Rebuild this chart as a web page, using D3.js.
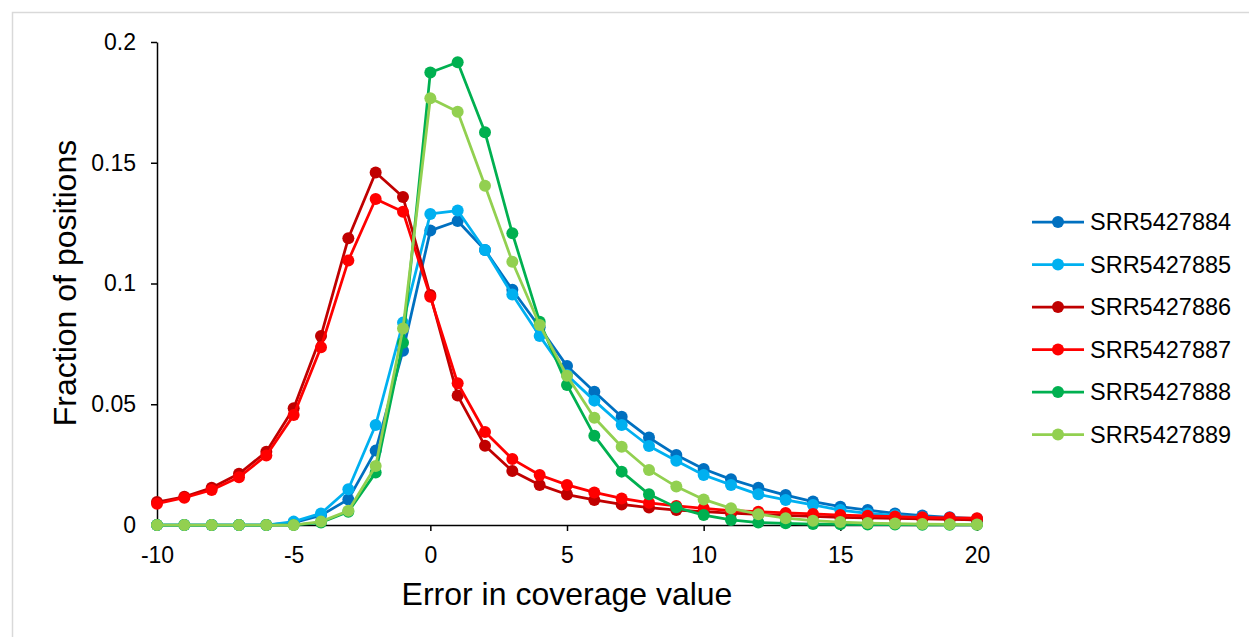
<!DOCTYPE html>
<html>
<head>
<meta charset="utf-8">
<script src="https://cdn.jsdelivr.net/npm/d3@7"></script>
<style>
  body { margin: 0; background: #fff; }
  svg text { font-family: "Liberation Sans", Arial, sans-serif; fill: #000; }
</style>
</head>
<body>
<div id="plot"></div>
<script>
// Chart data
var xValues = d3.range(-10, 21);

var seriesNames = ["SRR5427884", "SRR5427885", "SRR5427886", "SRR5427887", "SRR5427888", "SRR5427889"];
var seriesColors = ["#0070C0", "#00B0F0", "#C00000", "#FF0000", "#00B050", "#92D050"];

var srr884 = [0, 0, 0, 0, 0, 0.001, 0.004, 0.0106, 0.0308, 0.0722, 0.1219, 0.1259, 0.1139, 0.0974, 0.0819, 0.0658,
  0.0552, 0.0448, 0.0362, 0.029, 0.0232, 0.0189, 0.0154, 0.0124, 0.0097, 0.0076, 0.0062, 0.0048, 0.0039, 0.0032, 0.0026];
var srr885 = [0, 0, 0, 0, 0, 0.0014, 0.0048, 0.0148, 0.0414, 0.0838, 0.1288, 0.1302, 0.1139, 0.0954, 0.0783, 0.0621,
  0.0515, 0.0414, 0.0327, 0.0266, 0.0207, 0.0166, 0.0127, 0.0104, 0.0083, 0.0062, 0.0048, 0.004, 0.0032, 0.0026, 0.002];
var srr886 = [0.0095, 0.0117, 0.0154, 0.0212, 0.0303, 0.0483, 0.0783, 0.1187, 0.146, 0.1358, 0.0952, 0.0536, 0.0328, 0.0224, 0.0166, 0.0126,
  0.0104, 0.0085, 0.0072, 0.0062, 0.0055, 0.0049, 0.0044, 0.004, 0.0036, 0.0032, 0.003, 0.0027, 0.0025, 0.0023, 0.0021];
var srr887 = [0.0088, 0.0113, 0.0145, 0.0198, 0.0288, 0.0455, 0.0736, 0.1095, 0.135, 0.1297, 0.0945, 0.0587, 0.0385, 0.0273, 0.0207, 0.0166,
  0.0135, 0.011, 0.0092, 0.0079, 0.0069, 0.006, 0.0055, 0.005, 0.0046, 0.0041, 0.0038, 0.0035, 0.0032, 0.003, 0.0028];
var srr888 = [0, 0, 0, 0, 0, 0, 0.001, 0.0055, 0.0217, 0.0755, 0.1874, 0.1916, 0.1626, 0.1208, 0.0842, 0.058,
  0.037, 0.0221, 0.0127, 0.0073, 0.0041, 0.0021, 0.001, 0.0007, 0.0004, 0.0003, 0.0002, 0.0002, 0.0001, 0.0001, 0.0001];
var srr889 = [0, 0, 0, 0, 0, 0, 0.0014, 0.0059, 0.0244, 0.0814, 0.1767, 0.1711, 0.1405, 0.109, 0.0828, 0.0618,
  0.0444, 0.0324, 0.0228, 0.0159, 0.0106, 0.0069, 0.0045, 0.0028, 0.0018, 0.0012, 0.0008, 0.0006, 0.0004, 0.0003, 0.0002];

var xTicks = [-10, -5, 0, 5, 10, 15, 20];
var xTickLabels = ["-10", "-5", "0", "5", "10", "15", "20"];
var yTicks = [0, 0.05, 0.1, 0.15, 0.2];
var yTickLabels = ["0", "0.05", "0.1", "0.15", "0.2"];

var allSeries = [srr884, srr885, srr886, srr887, srr888, srr889];

// Canvas size
var svgWidth = 1249;
var svgHeight = 637;

var margin = { top: 42, right: 272, bottom: 112, left: 157 };
var width = svgWidth - margin.left - margin.right;
var height = svgHeight - margin.top - margin.bottom;

var svg = d3.select("#plot")
  .append("svg")
  .attr("width", svgWidth)
  .attr("height", svgHeight);

// light grey chart border (runs off the right and bottom edge)
svg.append("rect")
  .attr("x", 12.5)
  .attr("y", 12.5)
  .attr("width", svgWidth + 20)
  .attr("height", svgHeight + 20)
  .attr("fill", "none")
  .attr("stroke", "#d9d9d9")
  .attr("stroke-width", 1.5);

var chartGroup = svg.append("g")
  .attr("transform", `translate(${margin.left}, ${margin.top})`);

var xScale = d3.scaleLinear().domain([-10, 20]).range([0, width]);
var yScale = d3.scaleLinear().domain([0, 0.2]).range([height, 0]);

var bottomAxis = d3.axisBottom(xScale)
  .tickValues(xTicks)
  .tickSize(6)
  .tickSizeOuter(0)
  .tickPadding(16)
  .tickFormat((d, i) => xTickLabels[i]);

var leftAxis = d3.axisLeft(yScale)
  .tickValues(yTicks)
  .tickSize(6)
  .tickSizeOuter(0)
  .tickPadding(15)
  .tickFormat((d, i) => yTickLabels[i]);

var xAxisG = chartGroup.append("g")
  .attr("transform", `translate(0, ${height})`)
  .call(bottomAxis);

var yAxisG = chartGroup.append("g")
  .call(leftAxis);

[xAxisG, yAxisG].forEach(function(g) {
  g.select(".domain").attr("stroke", "#000").attr("stroke-width", 1.5);
  g.selectAll(".tick line").attr("stroke", "#000").attr("stroke-width", 1.5);
  g.selectAll(".tick text")
    .attr("fill", "#000")
    .style("font-size", "23px")
    .style("font-family", "Liberation Sans, Arial, sans-serif");
});

// Lines and markers
var line = d3.line()
  .x((d, i) => xScale(xValues[i]))
  .y(d => yScale(d));

allSeries.forEach(function(values, s) {
  var g = chartGroup.append("g");
  g.append("path")
    .datum(values)
    .attr("d", line)
    .attr("fill", "none")
    .attr("stroke", seriesColors[s])
    .attr("stroke-width", 2.75)
    .attr("stroke-linejoin", "round");
  g.selectAll("circle")
    .data(values)
    .enter()
    .append("circle")
    .attr("cx", (d, i) => xScale(xValues[i]))
    .attr("cy", d => yScale(d))
    .attr("r", 6)
    .attr("fill", seriesColors[s]);
});

// Axis titles
svg.append("text")
  .attr("x", 567)
  .attr("y", 605)
  .attr("text-anchor", "middle")
  .style("font-size", "32px")
  .text("Error in coverage value");

svg.append("text")
  .attr("transform", "translate(76, 283) rotate(-90)")
  .attr("text-anchor", "middle")
  .style("font-size", "32px")
  .text("Fraction of positions");

// Legend
var legend = svg.append("g")
  .attr("transform", "translate(1032, 222)");

var legendRow = legend.selectAll("g")
  .data(seriesNames)
  .enter()
  .append("g")
  .attr("transform", (d, i) => `translate(0, ${i * 42.5})`);

legendRow.append("line")
  .attr("x1", 0).attr("x2", 52)
  .attr("y1", 0).attr("y2", 0)
  .attr("stroke", (d, i) => seriesColors[i])
  .attr("stroke-width", 2.75);

legendRow.append("circle")
  .attr("cx", 26)
  .attr("cy", 0)
  .attr("r", 6)
  .attr("fill", (d, i) => seriesColors[i]);

legendRow.append("text")
  .attr("x", 58)
  .attr("y", 0)
  .attr("dy", "0.35em")
  .style("font-size", "23.5px")
  .text(d => d);
</script>
</body>
</html>
